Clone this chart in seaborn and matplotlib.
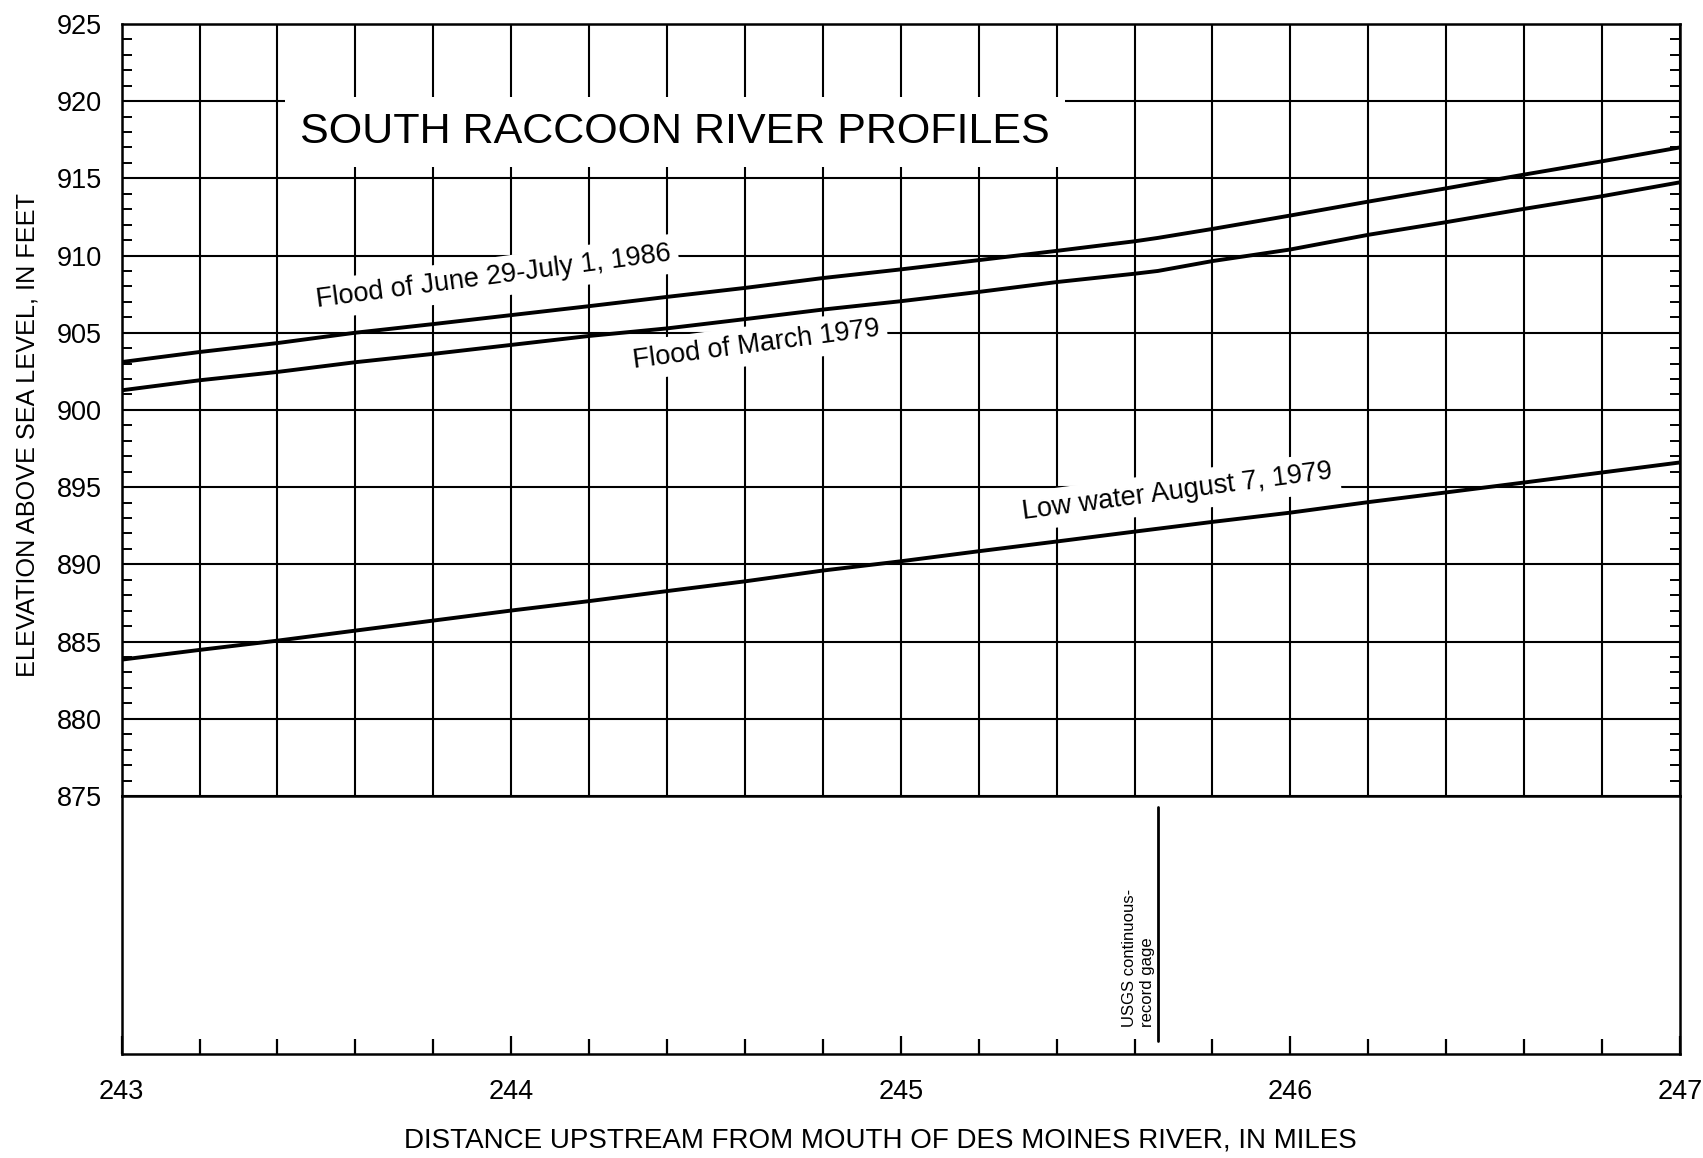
import numpy as np
import pandas as pd
import matplotlib
matplotlib.use("Agg")
import matplotlib.pyplot as plt
import seaborn as sns

# --- DATA ---
miles_flood = [243.0, 243.2, 243.4, 243.6, 243.8, 244.0, 244.2, 244.4, 244.6, 244.8,
               245.0, 245.2, 245.4, 245.6, 245.66, 245.8, 246.0, 246.2, 246.4, 246.6,
               246.8, 247.0]
flood_1986 = [903.1, 903.75, 904.33, 905.0, 905.56, 906.14, 906.72, 907.32, 907.9, 908.54,
              909.1, 909.7, 910.3, 910.92, 911.14, 911.72, 912.59, 913.49, 914.35, 915.24,
              916.1, 917.0]
flood_1979 = [901.27, 901.92, 902.46, 903.09, 903.63, 904.21, 904.79, 905.28, 905.88, 906.5,
              907.04, 907.64, 908.28, 908.82, 909.0, 909.64, 910.39, 911.34, 912.16, 913.02,
              913.84, 914.74]

miles_low = [243.0, 243.2, 243.4, 243.6, 243.8, 244.0, 244.2, 244.4, 244.6, 244.8,
             245.0, 245.2, 245.4, 245.6, 245.8, 246.0, 246.2, 246.4, 246.6, 246.8, 247.0]
low_1979 = [883.83, 884.46, 885.06, 885.71, 886.36, 887.01, 887.62, 888.27, 888.9, 889.6,
            890.2, 890.85, 891.48, 892.12, 892.75, 893.35, 894.03, 894.66, 895.3, 895.95,
            896.6]

gage_mile = 245.66
x_ticks = [243, 244, 245, 246, 247]
y_ticks = [875, 880, 885, 890, 895, 900, 905, 910, 915, 920, 925]

# long-form table for seaborn
df = pd.concat([
    pd.DataFrame({"mile": miles_flood, "elev": flood_1986, "profile": "1986"}),
    pd.DataFrame({"mile": miles_flood, "elev": flood_1979, "profile": "mar1979"}),
    pd.DataFrame({"mile": miles_low, "elev": low_1979, "profile": "aug1979"}),
])

sns.set_theme(style="white")
plt.rcParams["font.family"] = ["Liberation Sans", "DejaVu Sans"]
plt.rcParams["text.color"] = "black"
plt.rcParams["xtick.color"] = "black"
plt.rcParams["ytick.color"] = "black"

fig = plt.figure(figsize=(17.03, 11.58), dpi=100)
ax = fig.add_axes([0.0714, 0.3126, 0.9151, 0.6668])
ax_bot = fig.add_axes([0.0714, 0.0902, 0.9151, 0.2224])

# --- upper panel : profiles on grid ---
sns.lineplot(data=df, x="mile", y="elev", units="profile", estimator=None,
             color="black", linewidth=2.8, ax=ax, zorder=3, sort=False)

ax.set_xlim(243, 247)
ax.set_ylim(875, 925)
ax.set_xticks(np.arange(243, 247.01, 0.2))
ax.set_yticks(y_ticks)
ax.set_yticks(np.arange(875, 925.1, 1), minor=True)
ax.grid(True, which="major", color="black", linewidth=1.5)
ax.set_axisbelow(True)
ax.tick_params(axis="x", length=0, labelbottom=False)
ax.tick_params(axis="y", which="major", length=0, labelsize=19.5, pad=14)
ax.tick_params(axis="y", which="minor", direction="in", length=7, width=1.4,
               left=True, right=True, color="black")
ax.set_xlabel("")
ax.set_ylabel("")
for s in ax.spines.values():
    s.set_color("black")
    s.set_linewidth(1.8)

# labels on the plot
box = dict(boxstyle="square,pad=0.25", fc="white", ec="none")
ax.text(244.42, 918, "SOUTH RACCOON RIVER PROFILES", fontsize=31, ha="center", va="center",
        zorder=5, bbox=dict(boxstyle="square,pad=0.35", fc="white", ec="none"))
ax.text(243.956, 908.6, "Flood of June 29-July 1, 1986", fontsize=19.5, rotation=7.5,
        ha="center", va="center", zorder=5, bbox=box)
ax.text(244.63, 904.2, "Flood of March 1979", fontsize=19.5, rotation=7.5,
        ha="center", va="center", zorder=5, bbox=box)
ax.text(245.71, 894.7, "Low water August 7, 1979", fontsize=19.5, rotation=7.5,
        ha="center", va="center", zorder=5, bbox=box)

# --- lower panel : distance axis + gage ---
ax_bot.set_xlim(243, 247)
ax_bot.set_ylim(0, 1)
ax_bot.set_yticks([])
ax_bot.set_xticks(x_ticks)
ax_bot.set_xticklabels([str(v) for v in x_ticks])
ax_bot.set_xticks(np.arange(243, 247.01, 0.2), minor=True)
ax_bot.tick_params(axis="x", which="major", direction="in", length=13, width=1.6,
                   labelsize=19.5, pad=18, color="black", bottom=True)
ax_bot.tick_params(axis="x", which="minor", direction="in", length=11, width=1.6,
                   color="black", bottom=True)
for s in ax_bot.spines.values():
    s.set_color("black")
    s.set_linewidth(1.8)

ax_bot.axvline(gage_mile, ymin=0.05, ymax=0.958, color="black", linewidth=2)
ax_bot.text(gage_mile - 0.008, 0.105, "USGS continuous-\nrecord gage", rotation=90,
            ha="right", va="bottom", fontsize=12, linespacing=1.25,
            multialignment="left")

fig.text(0.517, 0.0155, "DISTANCE UPSTREAM FROM MOUTH OF DES MOINES RIVER, IN MILES",
         fontsize=20, ha="center", va="center")
fig.text(0.0159, 0.624, "ELEVATION ABOVE SEA LEVEL, IN FEET", fontsize=18.2,
         rotation=90, ha="center", va="center")

fig.savefig("out.png", dpi=100)
